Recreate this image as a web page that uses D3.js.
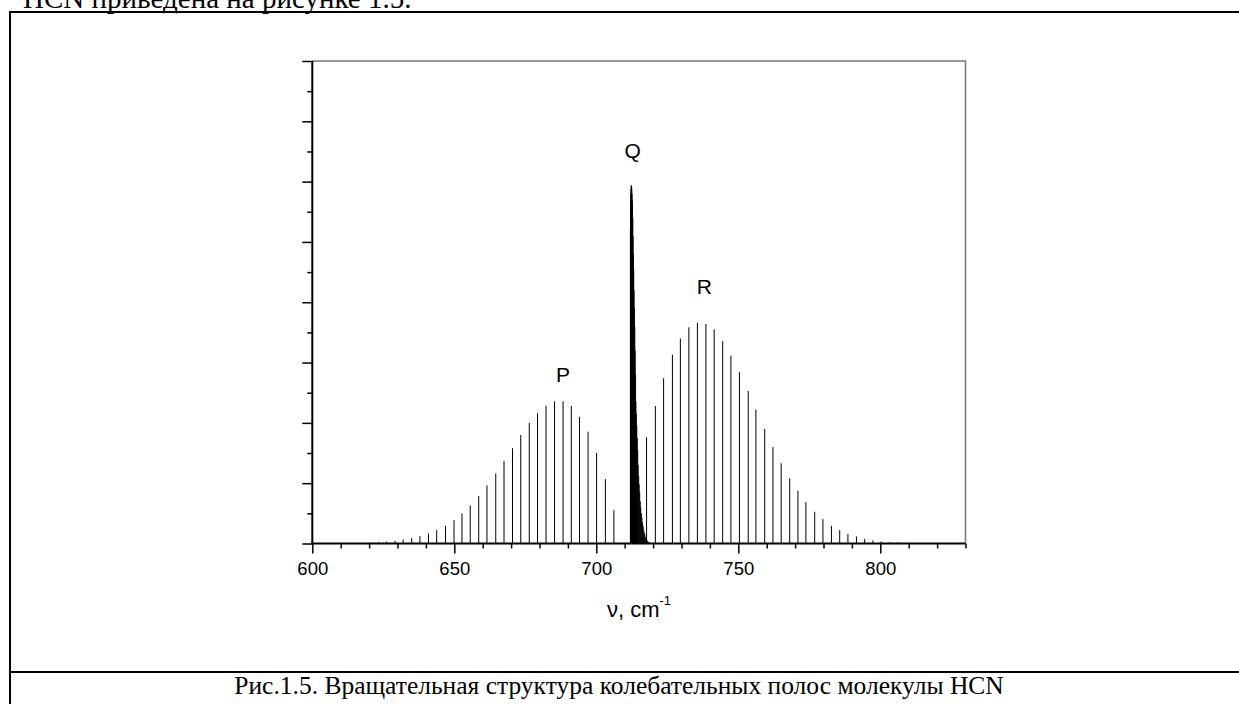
<!DOCTYPE html>
<html>
<head>
<meta charset="utf-8">
<script src="https://cdn.jsdelivr.net/npm/d3@7"></script>
<style>
  html, body { margin: 0; padding: 0; background: #fff; }
  svg { display: block; }
</style>
</head>
<body>
<svg id="chart" width="1239" height="704"></svg>
<script>
// ── HCN bending band: rotational lines ─────────────────────────────────────
// wavenumbers in cm-1, intensities in (unlabelled) y-axis units

const pNu  = [611.6, 614.5, 617.4, 620.4, 623.3, 626.2, 629.1, 632.0, 635.0, 637.9,
              640.9, 643.8, 646.9, 649.9, 652.7, 655.6, 658.6, 661.5, 664.6, 667.5,
              670.5, 673.4, 676.4, 679.3, 682.3, 685.3, 688.3, 691.2, 694.1, 697.1,
              700.1, 703.2, 706.2];
const pInt = [0.004, 0.007, 0.011, 0.017, 0.022, 0.033, 0.044, 0.066, 0.088, 0.122,
              0.166, 0.221, 0.293, 0.387, 0.498, 0.631, 0.785, 0.963, 1.16, 1.37,
              1.58, 1.80, 2.00, 2.16, 2.285, 2.36, 2.36, 2.28, 2.10, 1.853,
              1.50, 1.068, 0.553];

const qNu  = [712.00, 712.05, 712.10, 712.16, 712.22, 712.28, 712.35, 712.42, 712.50, 712.58,
              712.67, 712.76, 712.86, 712.96, 713.07, 713.18, 713.30, 713.42, 713.55, 713.68,
              713.82, 713.96, 714.11, 714.26, 714.42, 714.58, 714.75, 714.92, 715.10, 715.28,
              715.47, 715.66, 715.86, 716.06, 716.27, 716.48, 716.70, 716.92, 717.15, 717.38,
              717.62, 717.86, 718.11, 718.36, 718.62];
const qInt = [5.2, 5.5, 5.7, 5.8, 5.88, 5.92, 5.94, 5.93, 5.88, 5.8,
              5.7, 5.6, 5.4, 5.1, 4.8, 4.55, 4.2, 3.9, 3.6, 3.2,
              2.8, 2.35, 2.15, 1.95, 1.75, 1.55, 1.3, 1.12, 0.98, 0.85,
              0.7, 0.6, 0.5, 0.43, 0.35, 0.29, 0.23, 0.18, 0.14, 0.1,
              0.075, 0.055, 0.04, 0.025, 0.015];

const rNu  = [717.7, 720.8, 723.7, 726.8, 729.6, 732.6, 735.6, 738.6, 741.5, 744.5,
              747.4, 750.4, 753.5, 756.2, 759.3, 762.2, 765.1, 768.1, 771.0, 773.8,
              776.9, 779.8, 782.8, 785.7, 788.6, 791.6, 794.5, 797.4, 800.3, 803.3,
              806.2, 809.2, 812.1, 815.0];
const rInt = [1.76, 2.28, 2.74, 3.13, 3.40, 3.585, 3.66, 3.64, 3.55, 3.355,
              3.115, 2.84, 2.53, 2.22, 1.90, 1.60, 1.33, 1.08, 0.874, 0.686,
              0.526, 0.404, 0.293, 0.221, 0.16, 0.116, 0.077, 0.05, 0.033, 0.022,
              0.017, 0.011, 0.007, 0.004];

const branchLabels = ["P", "Q", "R"];
const branchLabelNu = [688.3, 712.8, 738.0];
const branchLabelY  = [2.68, 6.40, 4.14];

const xMajor = [600, 650, 700, 750, 800];
const xMinor = [610, 620, 630, 640, 660, 670, 680, 690, 710, 720, 730, 740,
                760, 770, 780, 790, 810, 820, 830];
const yMajor = [0, 1, 2, 3, 4, 5, 6, 7, 8];
const yMinor = [0.5, 1.5, 2.5, 3.5, 4.5, 5.5, 6.5, 7.5];

const topText = "HCN приведена на рисунке 1.5.";
const caption = "Рис.1.5. Вращательная структура колебательных полос молекулы HCN";

// ── Layout ───────────────────────────────────────────────────────────────────
const W = 1239, H = 704;
const plot = { left: 312.3, right: 965.5, top: 61, bottom: 543.5 };
const SANS = "'Liberation Sans', Arial, sans-serif";
const SERIF = "'Liberation Serif', 'Times New Roman', serif";

const svg = d3.select("#chart");
svg.append("rect").attr("width", W).attr("height", H).attr("fill", "#fff");

// page text above + frame of the figure
svg.append("text")
  .attr("x", 23).attr("y", 8)
  .attr("font-family", SERIF).attr("font-size", 29)
  .attr("fill", "#000")
  .text(topText);

const frame = svg.append("g").attr("stroke", "#000").attr("stroke-width", 2);
frame.append("line").attr("x1", 10).attr("y1", 12).attr("x2", W).attr("y2", 12);
frame.append("line").attr("x1", 10).attr("y1", 11).attr("x2", 10).attr("y2", H);
frame.append("line").attr("x1", 10).attr("y1", 672).attr("x2", W).attr("y2", 672);

svg.append("text")
  .attr("x", 619).attr("y", 694)
  .attr("text-anchor", "middle")
  .attr("font-family", SERIF).attr("font-size", 25.5)
  .attr("fill", "#000")
  .text(caption);

// ── Scales ───────────────────────────────────────────────────────────────────
const x = d3.scaleLinear().domain([600, 830]).range([plot.left, plot.right]);
const y = d3.scaleLinear().domain([0, 8]).range([plot.bottom, plot.top]);

// top + right borders (grey)
svg.append("path")
  .attr("d", `M${plot.left},${plot.top}H${plot.right}V${plot.bottom}`)
  .attr("fill", "none")
  .attr("stroke", "#7a7a7a")
  .attr("stroke-width", 1.5);

// ── Spectral lines ───────────────────────────────────────────────────────────
const lines = [];
pNu.forEach((v, i) => lines.push({ nu: v, h: pInt[i] }));
qNu.forEach((v, i) => lines.push({ nu: v, h: qInt[i] }));
rNu.forEach((v, i) => lines.push({ nu: v, h: rInt[i] }));

svg.append("g")
  .selectAll("line")
  .data(lines)
  .join("line")
  .attr("x1", d => x(d.nu)).attr("x2", d => x(d.nu))
  .attr("y1", y(0)).attr("y2", d => y(d.h))
  .attr("stroke", "#000")
  .attr("stroke-width", 1);

// ── Axes ─────────────────────────────────────────────────────────────────────
function styleAxis(g) {
  g.select(".domain").remove();
  g.selectAll(".tick line").attr("stroke", "#000").attr("stroke-width", 1.5);
  g.selectAll(".tick text")
    .attr("font-family", SANS).attr("font-size", 18.5).attr("fill", "#000");
}

svg.append("g")
  .attr("transform", `translate(0,${plot.bottom})`)
  .call(d3.axisBottom(x).tickValues(xMinor).tickSize(5).tickFormat(""))
  .call(styleAxis);
svg.append("g")
  .attr("transform", `translate(0,${plot.bottom})`)
  .call(d3.axisBottom(x).tickValues(xMajor).tickSize(10).tickPadding(8.5).tickFormat(d3.format("d")))
  .call(styleAxis);

svg.append("g")
  .attr("transform", `translate(${plot.left},0)`)
  .call(d3.axisLeft(y).tickValues(yMinor).tickSize(5).tickFormat(""))
  .call(styleAxis);
svg.append("g")
  .attr("transform", `translate(${plot.left},0)`)
  .call(d3.axisLeft(y).tickValues(yMajor).tickSize(10).tickFormat(""))
  .call(styleAxis);

// spines
svg.append("line")
  .attr("x1", plot.left - 1).attr("x2", plot.right)
  .attr("y1", plot.bottom).attr("y2", plot.bottom)
  .attr("stroke", "#000").attr("stroke-width", 2);
svg.append("line")
  .attr("x1", plot.left).attr("x2", plot.left)
  .attr("y1", plot.top).attr("y2", plot.bottom + 1)
  .attr("stroke", "#000").attr("stroke-width", 2);

// branch labels
svg.append("g")
  .selectAll("text")
  .data(branchLabels)
  .join("text")
  .attr("x", (d, i) => x(branchLabelNu[i]))
  .attr("y", (d, i) => y(branchLabelY[i]))
  .attr("text-anchor", "middle")
  .attr("font-family", SANS).attr("font-size", 21)
  .attr("fill", "#000")
  .text(d => d);

// x-axis title: ν, cm^-1
const xt = svg.append("text")
  .attr("x", 639).attr("y", 617)
  .attr("text-anchor", "middle")
  .attr("font-family", SANS).attr("font-size", 22)
  .attr("fill", "#000");
xt.append("tspan").text("ν, cm");
xt.append("tspan").attr("dy", -12).attr("font-size", 13).text("-1");
</script>
</body>
</html>
